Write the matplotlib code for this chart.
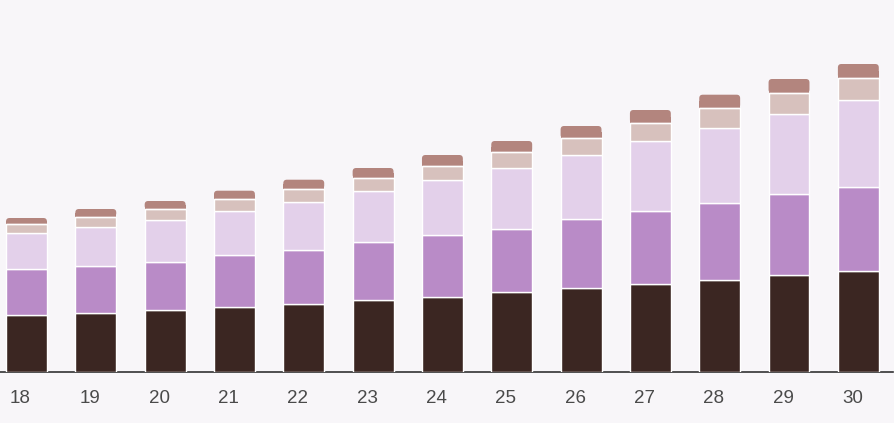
import matplotlib.pyplot as plt
from matplotlib.patches import FancyBboxPatch
from matplotlib.transforms import ScaledTranslation

# bar categories and stacked segment values (bottom to top)
ages = [18, 19, 20, 21, 22, 23, 24, 25, 26, 27, 28, 29, 30]
dark = [56.7, 59.3, 61.7, 64.7, 67.7, 71.7, 74.7, 79.7, 83.7, 87.7, 91.7, 96.7, 100.7]
purple = [46.0, 47.0, 48.6, 52.0, 54.6, 58.0, 62.0, 63.6, 69.0, 73.6, 77.0, 81.0, 84.6]
lavender = [36.0, 38.4, 41.4, 44.0, 47.4, 51.0, 55.0, 60.4, 64.0, 69.4, 75.0, 80.0, 86.4]
beige = [9.3, 10.6, 11.0, 12.0, 13.3, 13.0, 14.0, 16.0, 17.0, 18.0, 20.0, 21.3, 22.0]
top = [6.0, 7.7, 8.3, 8.6, 9.3, 10.3, 11.3, 11.3, 12.3, 13.3, 13.6, 14.0, 14.3]

colors = ["#3b2622", "#b98bc7", "#e3d0ea", "#d7c1bd", "#b3857e"]
bg = "#f8f6f9"
width = 0.59

fig = plt.figure(figsize=(8.95, 4.23), dpi=100)
fig.patch.set_facecolor(bg)
ax = fig.add_axes([0, 51 / 423, 893 / 895, 372 / 423])
ax.set_facecolor(bg)
ax.set_xlim(17.618, 30.5)
ax.set_ylim(0, 372)

bottom = [0] * len(ages)
for vals, c in zip([dark, purple, lavender, beige], colors[:4]):
    ax.bar(ages, vals, width, bottom=bottom, color=c, edgecolor="white",
           linewidth=1, zorder=3)
    bottom = [a + v for a, v in zip(bottom, vals)]

# top segment: rounded upper corners (rounded box + square lower half)
px_per_x = 893 / (30.5 - 17.618)
rad = 3.5 / px_per_x
for x, y0, t in zip(ages, bottom, top):
    patch = FancyBboxPatch((x - width / 2 + rad, y0 + rad * px_per_x),
                           width - 2 * rad, t - 2 * rad * px_per_x,
                           boxstyle=f"round,pad={rad},rounding_size={rad}",
                           mutation_aspect=px_per_x,
                           facecolor=colors[4], edgecolor="none", zorder=2)
    ax.add_patch(patch)
ax.bar(ages, [t / 2 for t in top], width, bottom=bottom, color=colors[4],
       edgecolor="none", zorder=2)

# white line between beige and top segment
ax.bar(ages, [0] * len(ages), width, bottom=bottom, edgecolor="white",
       linewidth=1, zorder=3)

for s in ["top", "right", "left"]:
    ax.spines[s].set_visible(False)
ax.spines["bottom"].set_color("#333333")
ax.spines["bottom"].set_linewidth(1.2)
ax.set_yticks([])
ax.set_xticks(ages)
ax.set_xticklabels([str(a) for a in ages], fontsize=13.5, color="#4a4a4a",
                   family="Liberation Sans")
ax.tick_params(axis="x", length=0, pad=13)
for lab in ax.get_xticklabels():
    lab.set_transform(lab.get_transform() + ScaledTranslation(-6 / 100, 0, fig.dpi_scale_trans))

fig.savefig("out.png", dpi=100, facecolor=bg)
